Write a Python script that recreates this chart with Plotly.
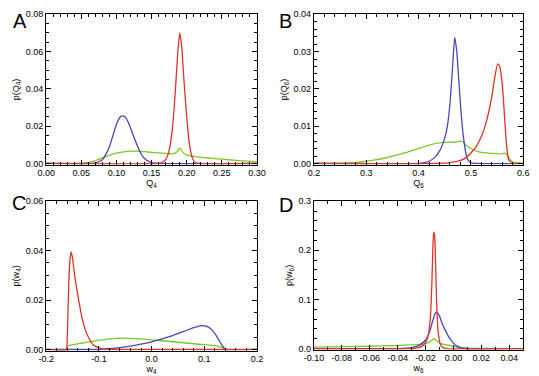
import plotly.graph_objects as go

# ---------------- Data ----------------
# Panel A: p(Q4)
a_blue_x = [0.0, 0.06, 0.07, 0.08, 0.085, 0.09, 0.095, 0.10, 0.105, 0.108, 0.112, 0.117, 0.122, 0.127, 0.132, 0.137, 0.142, 0.15, 0.16, 0.30]
a_blue_y = [0, 0, 0.0003, 0.002, 0.005, 0.009, 0.015, 0.021, 0.0248, 0.0255, 0.025, 0.022, 0.017, 0.012, 0.0075, 0.004, 0.002, 0.0005, 0, 0]
a_red_x = [0.0, 0.16, 0.165, 0.17, 0.175, 0.18, 0.184, 0.187, 0.19, 0.193, 0.196, 0.2, 0.204, 0.208, 0.212, 0.22, 0.30]
a_red_y = [0, 0, 0.0005, 0.002, 0.007, 0.02, 0.04, 0.058, 0.070, 0.062, 0.045, 0.025, 0.01, 0.003, 0.0005, 0, 0]
a_green_x = [0.0, 0.05, 0.06, 0.07, 0.08, 0.09, 0.10, 0.11, 0.12, 0.13, 0.14, 0.15, 0.16, 0.17, 0.18, 0.186, 0.19, 0.194, 0.2, 0.21, 0.22, 0.24, 0.26, 0.28, 0.30]
a_green_y = [0, 0.0002, 0.0006, 0.0015, 0.003, 0.0045, 0.0055, 0.0062, 0.0066, 0.0066, 0.0063, 0.006, 0.0057, 0.0054, 0.0052, 0.0062, 0.0082, 0.0062, 0.0045, 0.0038, 0.0033, 0.0026, 0.002, 0.0014, 0.001]

# Panel B: p(Q6)
b_blue_x = [0.2, 0.4, 0.41, 0.42, 0.43, 0.44, 0.45, 0.455, 0.46, 0.465, 0.469, 0.473, 0.477, 0.481, 0.485, 0.49, 0.495, 0.5, 0.51, 0.6]
b_blue_y = [0, 0, 0.0002, 0.0006, 0.0015, 0.0033, 0.0068, 0.010, 0.016, 0.026, 0.0338, 0.030, 0.022, 0.014, 0.008, 0.003, 0.0008, 0.0002, 0, 0]
b_red_x = [0.2, 0.44, 0.46, 0.48, 0.49, 0.5, 0.51, 0.52, 0.53, 0.54, 0.545, 0.551, 0.555, 0.56, 0.565, 0.568, 0.572, 0.58, 0.6]
b_red_y = [0, 0, 0.0002, 0.0008, 0.0015, 0.0028, 0.0045, 0.0072, 0.0115, 0.018, 0.0225, 0.0267, 0.026, 0.021, 0.011, 0.005, 0.001, 0, 0]
b_green_x = [0.2, 0.25, 0.28, 0.3, 0.32, 0.34, 0.36, 0.38, 0.4, 0.42, 0.44, 0.46, 0.47, 0.48, 0.485, 0.49, 0.5, 0.51, 0.52, 0.54, 0.56, 0.565, 0.57, 0.575, 0.58, 0.6]
b_green_y = [0, 0.0001, 0.0003, 0.0006, 0.001, 0.0016, 0.0023, 0.0031, 0.004, 0.0049, 0.0055, 0.0057, 0.0057, 0.006, 0.0058, 0.005, 0.004, 0.0034, 0.003, 0.0027, 0.0026, 0.0028, 0.0022, 0.001, 0.0004, 0]

# Panel C: p(w4)
c_blue_x = [-0.2, -0.1, -0.08, -0.06, -0.04, -0.02, 0.0, 0.02, 0.04, 0.06, 0.08, 0.095, 0.105, 0.115, 0.125, 0.132, 0.138, 0.142, 0.2]
c_blue_y = [0, 0, 0.0003, 0.0007, 0.0013, 0.0021, 0.0031, 0.0043, 0.0056, 0.0072, 0.0088, 0.0096, 0.0093, 0.0078, 0.0048, 0.0022, 0.0005, 0, 0]
c_red_x = [-0.2, -0.162, -0.16, -0.158, -0.156, -0.153, -0.15, -0.146, -0.14, -0.135, -0.13, -0.125, -0.12, -0.115, -0.11, -0.1, -0.09, -0.08, 0.2]
c_red_y = [0, 0, 0.005, 0.02, 0.033, 0.0395, 0.037, 0.030, 0.022, 0.016, 0.011, 0.0075, 0.005, 0.003, 0.0018, 0.0006, 0.0001, 0, 0]
c_green_x = [-0.2, -0.162, -0.158, -0.15, -0.13, -0.11, -0.09, -0.07, -0.05, -0.03, -0.01, 0.01, 0.03, 0.05, 0.07, 0.09, 0.11, 0.125, 0.135, 0.142, 0.2]
c_green_y = [0, 0, 0.0015, 0.0019, 0.0026, 0.0034, 0.004, 0.0045, 0.0046, 0.0044, 0.0041, 0.0037, 0.0033, 0.0029, 0.0025, 0.0021, 0.0017, 0.0013, 0.0007, 0, 0]
c_xtick_vals = [-0.2, -0.1, 0.0, 0.1, 0.2]
c_xtick_text = ["-0.2", "-0.1", "0.0", "0.1", "0.2"]

# Panel D: p(w6)
d_blue_x = [-0.1, -0.04, -0.03, -0.025, -0.02, -0.017, -0.015, -0.013, -0.012, -0.01, -0.008, -0.006, -0.004, -0.002, 0.0, 0.002, 0.005, 0.01, 0.05]
d_blue_y = [0, 0, 0.002, 0.006, 0.017, 0.035, 0.055, 0.072, 0.074, 0.066, 0.05, 0.038, 0.027, 0.018, 0.011, 0.006, 0.002, 0, 0]
d_red_x = [-0.1, -0.03, -0.025, -0.022, -0.02, -0.018, -0.0165, -0.0155, -0.0148, -0.0142, -0.0135, -0.0128, -0.012, -0.011, -0.0095, -0.008, -0.005, 0.05]
d_red_y = [0, 0, 0.002, 0.006, 0.012, 0.028, 0.065, 0.13, 0.2, 0.237, 0.23, 0.17, 0.09, 0.035, 0.01, 0.003, 0, 0]
d_green_x = [-0.1, -0.08, -0.06, -0.04, -0.03, -0.022, -0.018, -0.016, -0.014, -0.012, -0.01, -0.006, -0.002, 0.002, 0.006, 0.01, 0.02, 0.05]
d_green_y = [0.003, 0.0038, 0.0047, 0.0062, 0.0075, 0.009, 0.012, 0.016, 0.02, 0.016, 0.011, 0.008, 0.006, 0.0035, 0.0018, 0.0008, 0.0002, 0]
d_xtick_vals = [-0.10, -0.08, -0.06, -0.04, -0.02, 0.0, 0.02, 0.04]
d_xtick_text = ["-0.10", "-0.08", "-0.06", "-0.04", "-0.02", "0.00", "0.02", "0.04"]

BLUE = "rgb(70,70,185)"
RED = "rgb(222,50,40)"
GREEN = "rgb(125,200,40)"
FONT = "Liberation Sans, Arial, sans-serif"

W, H = 539, 376

def px_x(p):
    return p / W

def px_y(p):
    return 1 - p / H

panels = [
    dict(name="A", ax="", xs=[(a_green_x, a_green_y, GREEN), (a_blue_x, a_blue_y, BLUE), (a_red_x, a_red_y, RED)],
         xd=[37.5, 256], yd=[9.5, 163.5], xr=[0, 0.30], yr=[-0.0006, 0.08], xdt=0.05, xmdt=0.01, ydt=0.02, ymdt=0.005,
         xf=".2f", yf=".2f", xt="Q<sub>4</sub>", yt="p(Q<sub>4</sub>)", lab=(1.5, 6.5), xtv=None, xtt=None),
    dict(name="B", ax="2", xs=[(b_green_x, b_green_y, GREEN), (b_blue_x, b_blue_y, BLUE), (b_red_x, b_red_y, RED)],
         xd=[315, 532], yd=[9.5, 163.5], xr=[0.2, 0.6], yr=[-0.0003, 0.04], xdt=0.1, xmdt=0.02, ydt=0.01, ymdt=0.002,
         xf=".1f", yf=".2f", xt="Q<sub>6</sub>", yt="p(Q<sub>6</sub>)", lab=(276.5, 6.5), xtv=None, xtt=None),
    dict(name="C", ax="3", xs=[(c_green_x, c_green_y, GREEN), (c_blue_x, c_blue_y, BLUE), (c_red_x, c_red_y, RED)],
         xd=[37.5, 256], yd=[201, 354], xr=[-0.2, 0.2], yr=[-0.00045, 0.06], xdt=0.1, xmdt=0.02, ydt=0.02, ymdt=0.005,
         xf=".1f", yf=".2f", xt="w<sub>4</sub>", yt="p(w<sub>4</sub>)", lab=(0.5, 193), xtv=c_xtick_vals, xtt=c_xtick_text),
    dict(name="D", ax="4", xs=[(d_green_x, d_green_y, GREEN), (d_blue_x, d_blue_y, BLUE), (d_red_x, d_red_y, RED)],
         xd=[315, 532], yd=[201, 353], xr=[-0.10, 0.05], yr=[-0.002, 0.3], xdt=0.02, xmdt=0.01, ydt=0.1, ymdt=0.02,
         xf=".2f", yf=".1f", xt="w<sub>6</sub>", yt="p(w<sub>6</sub>)", lab=(276.5, 195), xtv=d_xtick_vals, xtt=d_xtick_text),
]

fig = go.Figure()
layout = dict(
    width=W, height=H, margin=dict(l=0, r=0, t=0, b=0),
    paper_bgcolor="white", plot_bgcolor="white", showlegend=False,
    font=dict(family=FONT, size=9, color="black"),
    annotations=[],
)

for p in panels:
    ax = p["ax"]
    for xs, ys, col in p["xs"]:
        fig.add_trace(go.Scatter(x=xs, y=ys, mode="lines", xaxis="x" + ax, yaxis="y" + ax,
                                 line=dict(color=col, width=1.3, shape="spline", smoothing=0.5),
                                 hoverinfo="skip"))
    common = dict(showline=True, linecolor="black", linewidth=1, mirror="ticks", ticks="inside",
                  ticklen=5, tickwidth=1, tickcolor="black", showgrid=False, zeroline=False,
                  tickfont=dict(family=FONT, size=9, color="black"))
    xaxis = dict(
        **common, domain=[px_x(p["xd"][0]), px_x(p["xd"][1])], range=p["xr"],
        anchor="y" + ax,
        minor=dict(dtick=p["xmdt"], tick0=p["xr"][0], ticks="inside", ticklen=3, tickcolor="black", showgrid=False),
        title=dict(text=p["xt"], font=dict(family=FONT, size=9), standoff=1),
    )
    if p["xtv"] is not None:
        xaxis.update(tickmode="array", tickvals=p["xtv"], ticktext=p["xtt"])
    else:
        xaxis.update(tick0=p["xr"][0], dtick=p["xdt"], tickformat=p["xf"])
    layout["xaxis" + ax] = xaxis
    layout["yaxis" + ax] = dict(
        **common, domain=[px_y(p["yd"][1]), px_y(p["yd"][0])], range=p["yr"],
        anchor="x" + ax, tick0=0, dtick=p["ydt"], tickformat=p["yf"],
        minor=dict(dtick=p["ymdt"], tick0=0, ticks="inside", ticklen=3, tickcolor="black", showgrid=False),
        title=dict(text=p["yt"], font=dict(family=FONT, size=9), standoff=4),
    )
    layout["annotations"].append(dict(
        text=p["name"], x=px_x(p["lab"][0]), y=px_y(p["lab"][1] - 3), xref="paper", yref="paper",
        xanchor="left", yanchor="top", showarrow=False,
        font=dict(family=FONT, size=20, color="black"),
    ))

fig.update_layout(**layout)
fig.write_html("out.html")
